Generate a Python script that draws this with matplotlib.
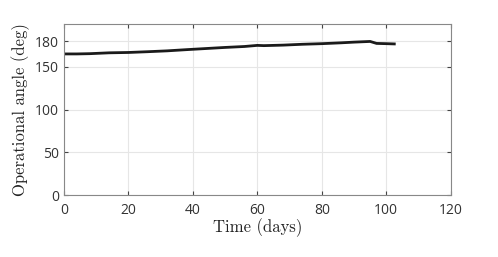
import numpy as np
import matplotlib.pyplot as plt

# operational angle over time
days = [0, 4, 8, 14, 20, 26, 32, 38, 44, 50, 56, 60, 62, 68, 74, 80, 86, 90, 95, 97, 100, 102.5]
angle = [165.0, 165.0, 165.3, 166.3, 166.7, 167.6, 168.6, 170.0, 171.3, 172.6, 173.7, 175.0, 174.7, 175.3, 176.3, 177.0, 178.0, 178.8, 179.6, 177.3, 177.0, 176.7]

xticks = [0, 20, 40, 60, 80, 100, 120]
yticks = [0, 50, 100, 150, 180]

fig = plt.figure(figsize=(4.98, 2.57), dpi=100)
ax = fig.add_axes([0.1285, 0.2412, 0.7765, 0.6654])

ax.plot(days, angle, color='#1a1a1a', lw=2.0)

ax.set_xlim(0, 120)
ax.set_ylim(0, 200)
ax.set_xticks(xticks)
ax.set_yticks(yticks)
ax.grid(True, color='#e6e6e6', lw=0.8)
ax.set_axisbelow(True)

for s in ax.spines.values():
    s.set_color('#888888')
    s.set_linewidth(0.8)
ax.tick_params(direction='in', length=3, width=0.8, color='#444444',
               top=True, right=True, labelsize=10, labelcolor='#333333')
ax.tick_params(axis='x', pad=6)
for lab in ax.get_xticklabels() + ax.get_yticklabels():
    lab.set_family('Open Sans')

ax.set_xlabel('Time (days)', family='cmr10', fontsize=12, color='#222222', labelpad=0)
ax.set_ylabel('Operational angle (deg)', family='cmr10', fontsize=12, color='#222222', labelpad=4)

plt.savefig('out.png', dpi=100)
